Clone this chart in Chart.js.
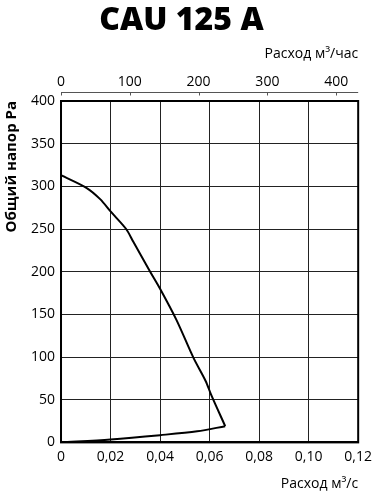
<!DOCTYPE html>
<html>
<head>
<meta charset="utf-8">
<script src="https://cdn.jsdelivr.net/npm/chart.js"></script>
<style>
  body { margin: 0; background: #fff; }
  #wrap { width: 378px; height: 500px; }
</style>
</head>
<body>
<div id="wrap"><canvas id="canvas"></canvas></div>
<script>
// upper branch of the fan curve (flow m3/s, pressure Pa)
var flowUpper = [0, 0.0104, 0.0158, 0.0202, 0.0263, 0.0292, 0.036, 0.040, 0.0467, 0.0535, 0.0584, 0.0606, 0.0663];
var pressUpper = [313, 298, 285, 270, 250, 235, 200, 180, 143, 99, 72, 56, 19];
// lower branch, back to the origin
var flowLower = [0.0663, 0.055, 0.040, 0.020, 0];
var pressLower = [19, 13, 8.5, 3.5, 0];

// top axis ticks, m3/h
var hourTicks = [0, 100, 200, 300, 400];

var titleText = 'CAU 125 A';
var yTitle = 'Общий напор Pa';
var xTitle = 'Расход м³/с';
var x2Title = 'Расход м³/час';
var fontName = '"Open Sans", "DejaVu Sans", sans-serif';

function toPoints(xs, ys) {
  return xs.map(function (x, i) { return { x: x, y: ys[i] }; });
}

// frame round the plot and the thin m3/h line above it
var frame = {
  id: 'frame',
  afterDraw: function (chart) {
    var a = chart.chartArea;
    var s = chart.scales.x2;
    var ctx = chart.ctx;
    var y = a.top - 8.5;
    ctx.save();
    ctx.strokeStyle = '#000';
    ctx.lineWidth = 2;
    ctx.strokeRect(a.left, a.top, a.right - a.left, a.bottom - a.top);
    ctx.strokeStyle = '#555';
    ctx.lineWidth = 1;
    ctx.beginPath();
    ctx.moveTo(s.left, y);
    ctx.lineTo(s.right, y);
    s.ticks.forEach(function (t) {
      var px = Math.round(s.getPixelForValue(t.value)) + 0.5;
      ctx.moveTo(px, y);
      ctx.lineTo(px, y + 3);
    });
    ctx.stroke();
    ctx.restore();
  }
};

new Chart(document.getElementById('canvas'), {
  type: 'scatter',
  data: {
    datasets: [{
      data: toPoints(flowUpper, pressUpper),
      showLine: true,
      borderColor: '#000',
      borderWidth: 2,
      pointRadius: 0,
      tension: 0.3
    }, {
      data: toPoints(flowLower, pressLower),
      showLine: true,
      borderColor: '#000',
      borderWidth: 2,
      pointRadius: 0,
      tension: 0.3
    }]
  },
  options: {
    responsive: true,
    maintainAspectRatio: false,
    animation: false,
    layout: { padding: { left: 3, right: 18, top: 2, bottom: 8 } },
    plugins: {
      legend: { display: false },
      tooltip: { enabled: false },
      title: {
        display: true,
        text: titleText,
        color: '#000',
        font: { family: fontName, size: 32, weight: 800 },
        padding: { top: 0, bottom: 5 }
      }
    },
    scales: {
      x: {
        type: 'linear',
        position: 'bottom',
        min: 0, max: 0.12,
        ticks: {
          stepSize: 0.02,
          color: '#000',
          font: { family: fontName, size: 14 },
          padding: 6,
          maxRotation: 0,
          callback: function (v) { return v === 0 ? '0' : v.toFixed(2).replace('.', ','); }
        },
        grid: { color: '#222', lineWidth: 1, drawTicks: false },
        border: { color: '#000', width: 2 },
        title: {
          display: true, text: xTitle, align: 'end', color: '#000',
          font: { family: fontName, size: 14 }, padding: { top: 4, bottom: 0 }
        }
      },
      x2: {
        type: 'linear',
        position: 'top',
        min: 0, max: 0.12 * 3600,
        afterBuildTicks: function (scale) {
          scale.ticks = hourTicks.map(function (v) { return { value: v }; });
        },
        ticks: {
          color: '#000',
          font: { family: fontName, size: 14 },
          padding: 11,
          maxRotation: 0
        },
        grid: { display: false, drawTicks: false },
        border: { display: false },
        title: {
          display: true, text: x2Title, align: 'end', color: '#000',
          font: { family: fontName, size: 14 }, padding: { top: 0, bottom: 0 }
        }
      },
      y: {
        min: 0, max: 400,
        ticks: {
          stepSize: 50,
          color: '#000',
          font: { family: fontName, size: 14 },
          padding: 6
        },
        grid: { color: '#222', lineWidth: 1, drawTicks: false },
        border: { color: '#000', width: 2 },
        title: {
          display: true, text: yTitle, align: 'end', color: '#000',
          font: { family: fontName, size: 15, weight: 'bold' }, padding: { top: 0, bottom: 4 }
        }
      }
    }
  },
  plugins: [frame]
});
</script>
</body>
</html>
